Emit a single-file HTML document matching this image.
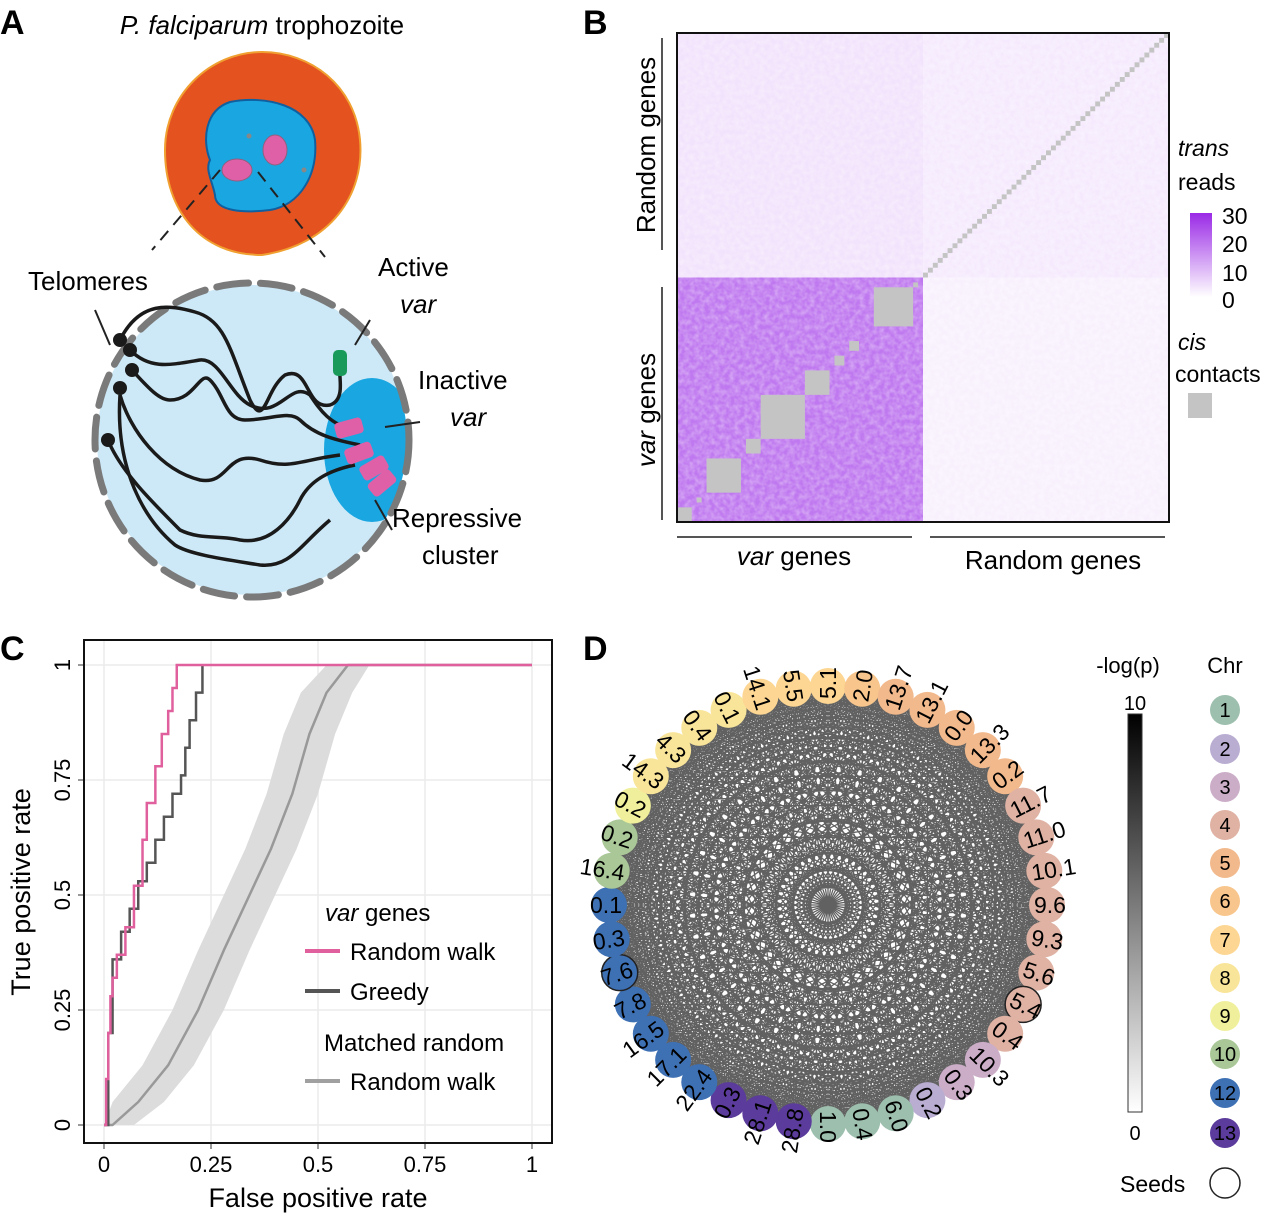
<!DOCTYPE html>
<html><head><meta charset="utf-8"><style>
body{margin:0;background:#fff;}
svg{display:block;font-family:"Liberation Sans",Arial,sans-serif;}
</style></head><body>
<svg id="fig" width="1280" height="1224" viewBox="0 0 1280 1224" xmlns="http://www.w3.org/2000/svg">
<defs>
<clipPath id="nucClip"><circle cx="252" cy="440" r="155"/></clipPath>
<linearGradient id="purpGrad" x1="0" y1="0" x2="0" y2="1"><stop offset="0" stop-color="#9a2ae6"/><stop offset="1" stop-color="#ffffff"/></linearGradient>
<linearGradient id="grayGrad" x1="0" y1="0" x2="0" y2="1"><stop offset="0" stop-color="#000"/><stop offset="1" stop-color="#fff"/></linearGradient>
<filter id="noise" x="0" y="0" width="100%" height="100%"><feTurbulence type="fractalNoise" baseFrequency="0.2" numOctaves="2" seed="3"/><feColorMatrix values="0 0 0 0 1  0 0 0 0 1  0 0 0 0 1  0 0 0 1.2 -0.35"/><feComposite in2="SourceGraphic" operator="in"/></filter>
</defs>

<!-- Panel A -->
<g>
<text x="0" y="34" font-size="34" font-weight="bold">A</text>
<text x="262" y="34" font-size="26" text-anchor="middle"><tspan font-style="italic">P. falciparum</tspan> trophozoite</text>
<path d="M262,52 C310,52 355,85 360,140 C365,195 330,245 262,255 C200,255 165,210 165,150 C165,95 210,52 262,52Z" fill="#e4521f" stroke="#f0a030" stroke-width="2"/>
<path d="M230,102 C265,95 310,105 315,140 C318,175 300,205 270,210 C245,213 215,212 215,195 C212,180 205,170 210,160 C202,140 205,110 230,102Z" fill="#1aa6e0" stroke="#1060a0" stroke-width="2"/>
<ellipse cx="237" cy="170" rx="15" ry="11" fill="#e060a8" stroke="#906080"/>
<ellipse cx="275" cy="150" rx="12" ry="15" fill="#e060a8" stroke="#906080"/>
<circle cx="249" cy="136" r="2.5" fill="#888"/><circle cx="304" cy="170" r="2.5" fill="#888"/>
<line x1="220" y1="170" x2="152" y2="250" stroke="#222" stroke-width="2" stroke-dasharray="12,8"/>
<line x1="258" y1="172" x2="325" y2="257" stroke="#222" stroke-width="2" stroke-dasharray="12,8"/>
<circle cx="252" cy="440" r="155" fill="#cde9f7"/>
<ellipse cx="372" cy="450" rx="48" ry="72" fill="#1aa6e0" clip-path="url(#nucClip)"/>
<circle cx="252" cy="440" r="157" fill="none" stroke="#7a7a7a" stroke-width="7" stroke-dasharray="32,12" stroke-linecap="round"/>
<g fill="none" stroke="#1a1a1a" stroke-width="3.5">
<path d="M120,340 C140,300 170,305 195,312 C225,320 230,350 250,400 C265,430 265,390 285,375 C310,365 305,410 330,405 C345,400 340,380 338,355"/>
<path d="M130,350 C150,370 170,365 200,360 C220,358 230,395 250,405 C280,420 290,380 310,395 C320,410 330,425 355,430"/>
<path d="M132,370 C150,390 160,400 170,400 C195,400 200,370 210,380 C225,395 225,420 245,420 C270,420 290,410 300,420 C315,435 335,440 360,445"/>
<path d="M120,395 C130,430 160,470 200,480 C230,485 225,450 260,460 C290,470 300,460 340,455"/>
<path d="M108,440 C120,470 150,500 180,530 C200,540 220,535 240,540 C270,545 290,520 300,500 C310,480 330,470 355,465"/>
<path d="M120,395 C115,470 145,520 175,545 C190,555 230,560 260,565 C290,568 300,545 330,520"/>
</g>
<g fill="#1a1a1a"><circle cx="120" cy="340" r="7"/><circle cx="130" cy="350" r="7"/><circle cx="132" cy="370" r="7"/><circle cx="120" cy="388" r="7"/><circle cx="108" cy="440" r="7"/></g>
<rect x="333" y="350" width="14" height="26" rx="5" fill="#1a9a5a"/>
<g fill="#e060a8">
<rect x="335" y="420" width="28" height="16" rx="4" transform="rotate(-15 349 428)"/>
<rect x="345" y="445" width="28" height="16" rx="4" transform="rotate(-20 359 453)"/>
<rect x="360" y="460" width="28" height="16" rx="4" transform="rotate(-30 374 468)"/>
<rect x="368" y="475" width="28" height="16" rx="4" transform="rotate(-40 382 483)"/>
</g>
<g stroke="#222" stroke-width="2">
<line x1="95" y1="310" x2="110" y2="345"/><line x1="370" y1="320" x2="355" y2="345"/><line x1="385" y1="427" x2="420" y2="422"/><line x1="375" y1="500" x2="392" y2="530"/>
</g>
<g font-size="26">
<text x="28" y="290">Telomeres</text>
<text x="378" y="276">Active</text>
<text x="400" y="313" font-style="italic">var</text>
<text x="418" y="389">Inactive</text>
<text x="450" y="426" font-style="italic">var</text>
<text x="392" y="527">Repressive</text>
<text x="422" y="564">cluster</text>
</g>
</g>

<!-- Panel B -->
<g>
<text x="583" y="34" font-size="34" font-weight="bold">B</text>
<g id="heatmap"></g>
<rect x="677" y="33" width="492" height="489" fill="none" stroke="#111" stroke-width="2"/>
<line x1="662" y1="38" x2="662" y2="250" stroke="#555" stroke-width="2"/>
<line x1="662" y1="287" x2="662" y2="520" stroke="#555" stroke-width="2"/>
<line x1="677" y1="537" x2="912" y2="537" stroke="#555" stroke-width="2"/>
<line x1="930" y1="537" x2="1165" y2="537" stroke="#555" stroke-width="2"/>
<text transform="translate(655,145) rotate(-90)" font-size="26" text-anchor="middle">Random genes</text>
<text transform="translate(655,410) rotate(-90)" font-size="26" text-anchor="middle"><tspan font-style="italic">var</tspan> genes</text>
<text x="794" y="565" font-size="26" text-anchor="middle"><tspan font-style="italic">var</tspan> genes</text>
<text x="1053" y="569" font-size="26" text-anchor="middle">Random genes</text>
<g font-size="23">
<text x="1178" y="156" font-style="italic">trans</text>
<text x="1178" y="190">reads</text>
<rect x="1190" y="213" width="22" height="84" fill="url(#purpGrad)"/>
<text x="1222" y="224">30</text><text x="1222" y="252">20</text><text x="1222" y="281">10</text><text x="1222" y="308">0</text>
<text x="1178" y="350" font-style="italic">cis</text>
<text x="1175" y="382">contacts</text>
<rect x="1188" y="393" width="24" height="25" fill="#c4c4c4"/>
</g>
</g>

<!-- Panel C -->
<g>
<text x="0" y="660" font-size="34" font-weight="bold">C</text>
<g id="rocgrid"></g>
<g id="roc"></g>
<rect x="84" y="640" width="468" height="503" fill="none" stroke="#111" stroke-width="2"/>
<text x="318" y="1207" font-size="27" text-anchor="middle">False positive rate</text>
<text transform="translate(30,892) rotate(-90)" font-size="27" text-anchor="middle">True positive rate</text>
<g font-size="24">
<text x="325" y="921"><tspan font-style="italic">var</tspan> genes</text>
<line x1="305" y1="951" x2="340" y2="951" stroke="#e0609e" stroke-width="4"/><text x="350" y="960">Random walk</text>
<line x1="305" y1="991" x2="340" y2="991" stroke="#555" stroke-width="4"/><text x="350" y="1000">Greedy</text>
<text x="324" y="1051">Matched random</text>
<line x1="305" y1="1081" x2="340" y2="1081" stroke="#a0a0a0" stroke-width="4"/><text x="350" y="1090">Random walk</text>
</g>
</g>

<!-- Panel D -->
<g>
<text x="583" y="660" font-size="34" font-weight="bold">D</text>
<g id="edges"></g>
<g id="nodes"></g>
<text x="1128" y="673" font-size="22" text-anchor="middle">-log(p)</text>
<rect x="1128" y="714" width="14" height="398" fill="url(#grayGrad)" stroke="#333" stroke-width="1"/>
<text x="1135" y="710" font-size="20" text-anchor="middle">10</text>
<text x="1135" y="1140" font-size="20" text-anchor="middle">0</text>
<text x="1225" y="673" font-size="22" text-anchor="middle">Chr</text>
<g id="chrlegend"></g>
<text x="1120" y="1192" font-size="23">Seeds</text>
<circle cx="1225" cy="1183" r="15" fill="#fff" stroke="#222" stroke-width="1.5"/>
</g>
</svg>
<script>
const NS='http://www.w3.org/2000/svg';
function mk(tag,attrs,parent){const e=document.createElementNS(NS,tag);for(const k in attrs)e.setAttribute(k,attrs[k]);parent.appendChild(e);return e;}

// ---- Panel B data ----
const nVar=50, nRand=50;
const blockLabels=['random-var','random-random','var-var','var-random'];
const blockMeanReads=[4,3,19,2];
const cisBlockStart=[0,4,6,14,17,26,30,32,35,40,48];
const cisBlockSize=[3,1,7,3,9,5,1,2,2,8,1];
// ---- Panel C data ----
const rwFpr=[0,0.005,0.01,0.015,0.02,0.03,0.05,0.07,0.09,0.1,0.12,0.135,0.15,0.16,0.17,1];
const rwTpr=[0,0.1,0.2,0.28,0.32,0.37,0.43,0.52,0.62,0.7,0.78,0.85,0.9,0.95,1,1];
const grFpr=[0,0.01,0.02,0.04,0.06,0.08,0.1,0.12,0.14,0.16,0.18,0.19,0.2,0.215,0.23];
const grTpr=[0,0.2,0.36,0.42,0.47,0.53,0.57,0.62,0.67,0.72,0.76,0.82,0.88,0.94,1];
const mrFpr=[0,0.02,0.08,0.15,0.22,0.28,0.34,0.39,0.44,0.48,0.52,0.57,1];
const mrTpr=[0,0,0.05,0.13,0.25,0.38,0.5,0.6,0.72,0.85,0.94,1,1];
const mrBand=[0.03,0.05,0.06,0.06,0.06,0.06,0.06,0.06,0.06,0.06,0.06,0.05,0];
const xTicks=[0,0.25,0.5,0.75,1];
const xTickLabels=['0','0.25','0.5','0.75','1'];
const yTicks=[0,0.25,0.5,0.75,1];
const yTickLabels=['0','0.25','0.5','0.75','1'];
// ---- Panel D data ----
const nodeLabels=['5.1','2.0','13.7','13.1','0.0','13.3','0.2','11.7','11.0','10.1','9.6','9.3','5.6','5.4','0.4','10.3','0.3','0.2','6.0','0.4','1.0','28.8','28.1','0.3','22.4','17.1','16.5','7.8','7.6','0.3','0.1','16.4','0.2','0.2','14.3','4.3','0.4','0.1','14.1','5.5'];
const nodeChr=[7,6,5,5,5,5,5,4,4,4,4,4,4,4,4,3,3,2,1,1,1,13,13,13,12,12,12,12,12,12,12,10,10,9,8,8,8,8,7,7];
const seedIdx=[13,28];
const chrList=[1,2,3,4,5,6,7,8,9,10,12,13];
const chrColors={1:'#9dbfae',2:'#b9add2',3:'#cbadc8',4:'#dfb2a4',5:'#f2b98c',6:'#f8c68c',7:'#fcd692',8:'#f9e59a',9:'#f0f09c',10:'#a9c797',12:'#3e70b4',13:'#5b3b9b'};

// Heatmap
(function(){
 const g=document.getElementById('heatmap');
 const x0=677,y0=33,W=492,H=489,n=nVar+nRand;
 const cw=W/n, ch=H/n;
 const colX=i=>x0+i*cw;
 const rowY=j=>y0+H-(j+1)*ch;
 const col=v=>{const t=Math.min(v/30,1);const r=Math.round(255-t*(255-154)),gg=Math.round(255-t*(255-42)),b=Math.round(255-t*(255-230));return `rgb(${r},${gg},${b})`;};
 const blocks=[[0,nVar,nVar,nRand],[nVar,nRand,nVar,nRand],[0,nVar,0,nVar],[nVar,nRand,0,nVar]];
 blocks.forEach((b,k)=>{
  const r=mk('rect',{x:colX(b[0]),y:rowY(b[2]+b[3]-1),width:b[1]*cw,height:b[3]*ch,fill:col(blockMeanReads[k])},g);
  
  
 });
 mk('rect',{x:x0,y:y0,width:W,height:H,fill:'#fff',filter:'url(#noise)',opacity:0.5},g);
 cisBlockStart.forEach((s,k)=>{
  const sz=cisBlockSize[k];
  const r=mk('rect',{x:colX(s),y:rowY(s+sz-1),width:sz*cw,height:sz*ch,fill:'#c4c4c4'},g);
  
  
 });
 for(let i=nVar;i<n;i++){mk('rect',{x:colX(i),y:rowY(i),width:cw,height:ch,fill:'#c4c4c4'},g);}
})();

// ROC
(function(){
 const X=v=>104+v*428, Y=v=>1125-v*460;
 const gg=document.getElementById('rocgrid');
 xTicks.forEach((t,i)=>{mk('line',{x1:X(t),x2:X(t),y1:640,y2:1143,stroke:'#ebebeb','stroke-width':1.5},gg);
  const tx=mk('text',{x:X(t),y:1172,'font-size':22,'text-anchor':'middle'},gg);tx.textContent=xTickLabels[i];
  mk('line',{x1:X(t),x2:X(t),y1:1143,y2:1149,stroke:'#333'},gg);});
 yTicks.forEach((t,i)=>{mk('line',{x1:84,x2:552,y1:Y(t),y2:Y(t),stroke:'#ebebeb','stroke-width':1.5},gg);
  const tx=mk('text',{transform:`translate(70,${Y(t)}) rotate(-90)`,'font-size':22,'text-anchor':'middle'},gg);tx.textContent=yTickLabels[i];
  mk('line',{x1:78,x2:84,y1:Y(t),y2:Y(t),stroke:'#333'},gg);});
 const g=document.getElementById('roc');
 let up='';
 mrFpr.forEach((f,i)=>{up+=(i?'L':'M')+X(Math.max(0,f-mrBand[i]))+','+Y(mrTpr[i]);});
 for(let i=mrFpr.length-1;i>=0;i--){up+='L'+X(Math.min(1,mrFpr[i]+mrBand[i]))+','+Y(mrTpr[i]);}
 const band=mk('path',{d:up+'Z',fill:'#dcdcdc'},g);
 
 
 let d='';mrFpr.forEach((f,i)=>{d+=(i?'L':'M')+X(f)+','+Y(mrTpr[i]);});
 const mr=mk('path',{d:d,fill:'none',stroke:'#999','stroke-width':2.5,'stroke-linejoin':'round'},g);
 
 
 const step=(fx,ty)=>{let s='M'+X(fx[0])+','+Y(ty[0]);for(let i=1;i<fx.length;i++){s+='L'+X(fx[i])+','+Y(ty[i-1])+'L'+X(fx[i])+','+Y(ty[i]);}return s;};
 const gr=mk('path',{d:step(grFpr,grTpr),fill:'none',stroke:'#555','stroke-width':2.5},g);
 
 
 const rw=mk('path',{d:step(rwFpr,rwTpr),fill:'none',stroke:'#e0609e','stroke-width':2.5},g);
 
 
})();

// Network
(function(){
 const cx=828,cy=905,R=219,n=nodeLabels.length;
 const pos=nodeLabels.map((_,i)=>{const a=-Math.PI/2+i*2*Math.PI/n;return [cx+R*Math.cos(a),cy+R*Math.sin(a),a];});
 const eg=document.getElementById('edges');
 let d='';
 for(let i=0;i<n;i++)for(let j=i+1;j<n;j++){d+='M'+pos[i][0].toFixed(1)+','+pos[i][1].toFixed(1)+'L'+pos[j][0].toFixed(1)+','+pos[j][1].toFixed(1);}
 mk('path',{d:d,stroke:'#3a3a3a','stroke-width':1.3,'stroke-opacity':0.8,fill:'none'},eg);
 const ng=document.getElementById('nodes');
 nodeLabels.forEach((lab,i)=>{
  const [x,y,a]=pos[i];
  const c=mk('circle',{cx:x,cy:y,r:18,fill:chrColors[nodeChr[i]],stroke:seedIdx.includes(i)?'#222':'none','stroke-width':1.5},ng);
  
  
 });
 nodeLabels.forEach((lab,i)=>{
  const [x,y,a]=pos[i];
  let deg=a*180/Math.PI, anchor='start', ox=x-Math.cos(a)*13, oy=y-Math.sin(a)*13;
  if(Math.cos(a)<-0.01){deg+=180;anchor='end';}
  const t=mk('text',{x:0,y:0,'font-size':23,'text-anchor':anchor,'dominant-baseline':'central',transform:`translate(${ox.toFixed(1)},${oy.toFixed(1)}) rotate(${deg.toFixed(1)})`},ng);
  t.textContent=lab;
  
  
 });
 const lg=document.getElementById('chrlegend');
 const ly=[710,749,787,825,863,901,940,978,1016,1054,1093,1133];
 chrList.forEach((c,i)=>{
  const ci=mk('circle',{cx:1225,cy:ly[i],r:15,fill:chrColors[c]},lg);
  
  
  const t=mk('text',{x:1225,y:ly[i]+7,'font-size':20,'text-anchor':'middle'},lg);t.textContent=c;
 });
})();
</script>
</body></html>
